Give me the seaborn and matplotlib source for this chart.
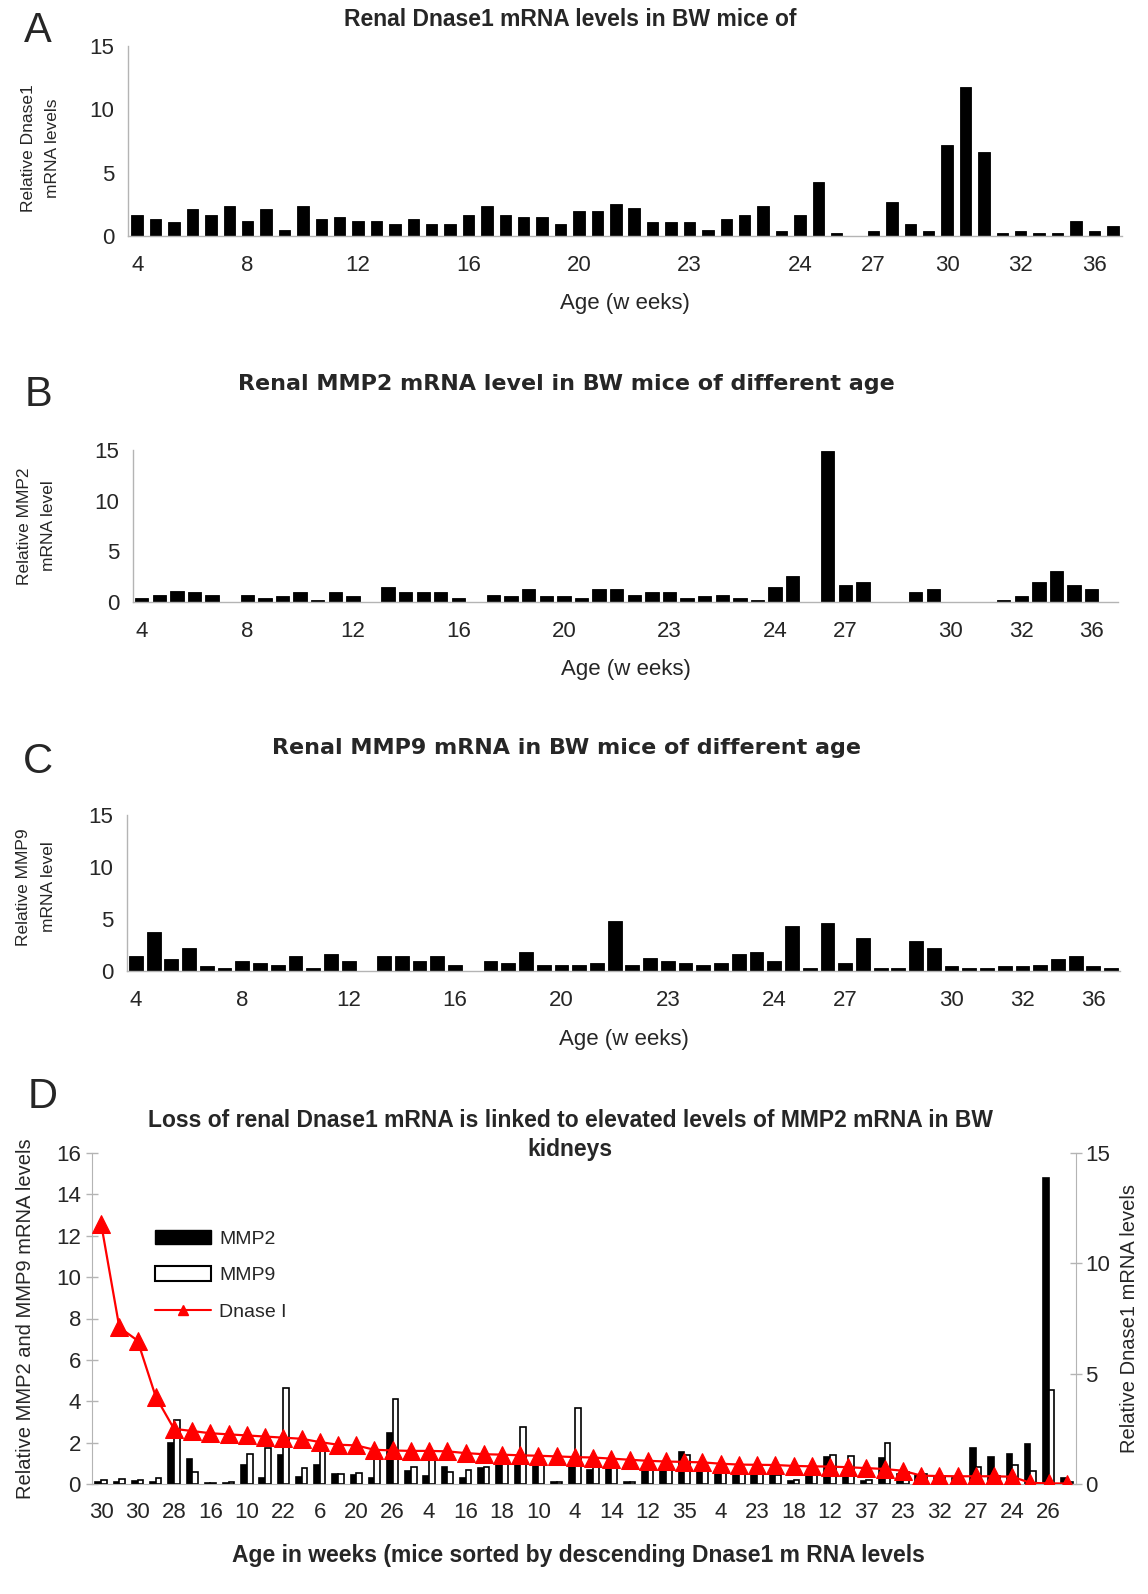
import numpy as np
import pandas as pd
import matplotlib
matplotlib.use("Agg")
import matplotlib.pyplot as plt
import seaborn as sns
from matplotlib.patches import Patch
from matplotlib.lines import Line2D

# A: renal Dnase1 mRNA per mouse, mice in age order
dnase_levels = [1.64, 1.38, 1.08, 2.1, 1.64, 2.33,
                1.2, 2.1, 0.51, 2.33, 1.38, 1.51,
                1.2, 1.2, 0.92, 1.38, 0.92, 0.92,
                1.64, 2.33, 1.64, 1.51, 1.51, 0.92,
                1.95, 1.95, 2.49, 2.2, 1.08, 1.08,
                1.08, 0.51, 1.38, 1.64, 2.33, 0.36,
                1.64, 4.23, 0.2, 0.0,
                0.36, 2.67, 0.92, 0.36,
                7.2, 11.8, 6.64, 0.2,
                0.36, 0.2, 0.2, 1.2,
                0.36, 0.77]
dnase_ages = (["4"] * 6 + ["8"] * 6 + ["12"] * 6 + ["16"] * 6 + ["20"] * 6 + ["23"] * 6
              + ["24"] * 4 + ["27"] * 4 + ["30"] * 4 + ["32"] * 4 + ["36"] * 2)

# B / C: MMP2 and MMP9 per mouse, age order
mmp_ages = (["4"] * 6 + ["8"] * 6 + ["12"] * 6 + ["16"] * 6 + ["20"] * 6 + ["23"] * 6
            + ["24"] * 4 + ["27"] * 6 + ["30"] * 4 + ["32"] * 4 + ["36"] * 2)
mmp2_levels = [0.42, 0.74, 1.1, 0.94, 0.74, 0.0, 0.74, 0.39, 0.55, 0.94, 0.23, 0.94, 0.55, 0.0,
               1.45, 0.94, 0.94, 0.94, 0.39, 0.0, 0.74, 0.55, 1.29, 0.55, 0.55, 0.39, 1.29, 1.29,
               0.74, 0.97, 0.97, 0.39, 0.55, 0.74, 0.39, 0.19, 1.48, 2.55, 0.0, 14.9, 1.68, 2.0,
               0.0, 0.0, 0.94, 1.29, 0.0, 0.0, 0.0, 0.23, 0.55, 2.0, 3.1, 1.68, 1.29, 0.0]
mmp9_levels = [1.47, 3.72, 1.13, 2.19, 0.44, 0.25, 0.94, 0.78, 0.59, 1.47, 0.25, 1.66, 0.94, 0.0,
               1.47, 1.47, 0.94, 1.47, 0.59, 0.0, 0.94, 0.78, 1.81, 0.59, 0.59, 0.59, 0.78, 4.78,
               0.59, 1.28, 0.94, 0.78, 0.59, 0.78, 1.66, 1.81, 0.94, 4.28, 0.25, 4.6, 0.78, 3.22,
               0.25, 0.25, 2.84, 2.19, 0.44, 0.25, 0.25, 0.44, 0.44, 0.59, 1.13, 1.47, 0.44, 0.25]

# D: mice sorted by descending Dnase1
sorted_mmp2 = [0.1, 0.1, 0.15, 0.1, 2.0, 1.2, 0.05, 0.05, 0.9, 0.3,
               1.4, 0.35, 0.9, 0.5, 0.45, 0.3, 2.45, 0.65, 0.4, 0.8,
               0.3, 0.75, 1.0, 1.0, 1.0, 0.1, 0.8, 0.7, 0.85, 0.1,
               0.75, 0.7, 1.55, 0.7, 0.6, 0.6, 0.5, 0.5, 0.15, 0.45,
               1.3, 0.5, 0.15, 1.25, 0.5, 0.45, 0.3, 0.3, 1.75, 1.3,
               1.45, 1.95, 14.8, 0.3]
sorted_mmp9 = [0.2, 0.25, 0.2, 0.3, 3.1, 0.6, 0.05, 0.1, 1.45, 1.75,
               4.65, 0.75, 1.65, 0.5, 0.55, 1.2, 4.1, 0.8, 1.15, 0.6,
               0.7, 0.8, 1.1, 2.75, 1.05, 0.1, 3.65, 0.8, 0.85, 0.1,
               0.75, 0.7, 1.4, 0.7, 0.6, 0.55, 0.5, 0.45, 0.2, 0.45,
               1.4, 1.35, 0.2, 2.0, 0.6, 0.5, 0.4, 0.35, 0.8, 0.4,
               0.9, 0.65, 4.55, 0.1]
sorted_dnase = [11.8, 7.1, 6.5, 3.95, 2.5, 2.4, 2.3, 2.25, 2.2, 2.15,
                2.1, 2.05, 1.9, 1.78, 1.75, 1.55, 1.52, 1.5, 1.5, 1.48,
                1.4, 1.35, 1.33, 1.3, 1.28, 1.25, 1.22, 1.2, 1.15, 1.1,
                1.05, 1.02, 1.0, 0.98, 0.92, 0.88, 0.87, 0.86, 0.82, 0.8,
                0.79, 0.76, 0.72, 0.68, 0.6, 0.38, 0.36, 0.35, 0.35, 0.35,
                0.33, 0.05, 0.03, 0.02]
# age shown under every second mouse
sorted_age_labels = ["30", "30", "28", "16", "10", "22", "6", "20", "26", "4", "16", "18", "10", "4",
                     "14", "12", "35", "4", "23", "18", "12", "37", "23", "32", "27", "24", "26"]

W, H = 1148, 1594
GREY = "#b4b4b4"

sns.set_style("white")
plt.rcParams["font.family"] = ["Liberation Sans", "DejaVu Sans"]

fig = plt.figure(figsize=(W / 100, H / 100), dpi=100)


def add_ax(left, top, right, bottom):
    return fig.add_axes([left / W, 1 - bottom / H, (right - left) / W, (bottom - top) / H])


def fig_text(x, y, s, **kw):
    fig.text(x / W, 1 - y / H, s, ha="center", va="center", **kw)


def age_panel(box, levels, ages, bar_width, ylabel, ylabel_pos, xlabel_y):
    ax = add_ax(*box)
    n = len(levels)
    df = pd.DataFrame({"mouse": np.arange(n), "level": levels})
    sns.barplot(data=df, x="mouse", y="level", color="black", saturation=1, width=bar_width,
                edgecolor="black", linewidth=0.6, errorbar=None, ax=ax)
    ax.set_xlim(-0.5, n - 0.5)
    ax.set_ylim(0, 15)
    ax.set_yticks([0, 5, 10, 15])
    starts = [i for i in range(n) if i == 0 or ages[i] != ages[i - 1]]
    ax.set_xticks(starts, labels=[ages[i] for i in starts])
    ax.set_xticks(np.arange(-0.5, n), minor=True)
    ax.tick_params(axis="x", which="major", length=0, pad=14, labelsize=16)
    ax.tick_params(axis="x", which="minor", length=6, color=GREY, width=1)
    ax.tick_params(axis="y", length=6, color=GREY, width=1, labelsize=16, pad=4)
    for side in ["top", "right"]:
        ax.spines[side].set_visible(False)
    for side in ["left", "bottom"]:
        ax.spines[side].set_color(GREY)
        ax.spines[side].set_linewidth(1)
    ax.set_xlabel("Age (w eeks)", fontsize=16)
    ax.xaxis.set_label_coords(0.5, xlabel_y)
    ax.set_ylabel(ylabel, fontsize=12.5, linespacing=1.8)
    ax.yaxis.set_label_coords(*ylabel_pos)
    return ax


# Panel A
age_panel((128, 46, 1122, 236), dnase_levels, dnase_ages, 0.62,
          "Relative Dnase1\nmRNA levels", (-0.068, 0.46), -0.30)
fig_text(570, 19, "Renal Dnase1 mRNA levels in BW mice of", fontsize=16.5, fontweight="bold")
fig_text(38, 31, "A", fontsize=30)

# Panel B
age_panel((133, 450, 1118, 602), mmp2_levels, mmp_ages, 0.76,
          "Relative MMP2\nmRNA level", (-0.078, 0.5), -0.375)
fig_text(566, 384, "Renal MMP2 mRNA level in BW mice of different age", fontsize=16,
         fontweight="bold", family="DejaVu Sans")
fig_text(38, 395, "B", fontsize=30)

# Panel C
age_panel((127, 815, 1120, 971), mmp9_levels, mmp_ages, 0.78,
          "Relative MMP9\nmRNA level", (-0.072, 0.54), -0.372)
fig_text(566, 748, "Renal MMP9 mRNA in BW mice of different age", fontsize=16,
         fontweight="bold", family="DejaVu Sans")
fig_text(38, 762, "C", fontsize=30)

# Panel D
ax = add_ax(92, 1153, 1076, 1484)
n = len(sorted_dnase)
dfd = pd.DataFrame({"mouse": np.tile(np.arange(n), 2),
                    "level": sorted_mmp2 + sorted_mmp9,
                    "gene": ["MMP2"] * n + ["MMP9"] * n})
sns.barplot(data=dfd, x="mouse", y="level", hue="gene",
            palette={"MMP2": "black", "MMP9": "white"}, saturation=1, width=0.62,
            edgecolor="black", linewidth=1.2, errorbar=None, legend=False, ax=ax)
ax2 = ax.twinx()
sns.lineplot(x=np.arange(n), y=sorted_dnase, color="red", lw=1.6, marker="^", markersize=13.5,
             markeredgecolor="red", ax=ax2)
ax.set_xlim(-0.5, n - 0.5)
ax.set_ylim(0, 16)
ax.set_yticks(range(0, 17, 2))
ax2.set_ylim(0, 15)
ax2.set_yticks([0, 5, 10, 15])
ax.set_xticks(np.arange(0, n, 2), labels=sorted_age_labels)
ax.tick_params(axis="x", length=0, pad=13, labelsize=16)
ax.tick_params(axis="y", length=9, direction="inout", color=GREY, width=1, labelsize=16)
ax2.tick_params(axis="y", length=9, direction="inout", color=GREY, width=1, labelsize=16, pad=2)
for a in (ax, ax2):
    a.spines["top"].set_visible(False)
ax.spines["right"].set_visible(False)
ax2.spines["left"].set_visible(False)
ax2.spines["bottom"].set_visible(False)
ax.spines["left"].set_color(GREY)
ax.spines["bottom"].set_color(GREY)
ax2.spines["right"].set_color(GREY)
ax.set_xlabel("Age in weeks (mice sorted by descending Dnase1 m RNA levels", fontsize=16.5,
              fontweight="bold")
ax.xaxis.set_label_coords(0.494, -0.18)
ax.set_ylabel("Relative MMP2 and MMP9 mRNA levels", fontsize=14.5)
ax.yaxis.set_label_coords(-0.058, 0.5)
ax2.set_ylabel("Relative Dnase1 mRNA levels", fontsize=14.5)
ax2.yaxis.set_label_coords(1.045, 0.5)

handles = [Patch(facecolor="black", edgecolor="black"),
           Patch(facecolor="white", edgecolor="black", linewidth=1.5),
           Line2D([], [], color="red", lw=1.5, marker="^", markersize=7)]
ax2.legend(handles, ["MMP2", "MMP9", "Dnase I"], loc="upper left", bbox_to_anchor=(0.064, 0.767),
           frameon=False, fontsize=14, handlelength=2.9, handleheight=0.75, labelspacing=0.95,
           handletextpad=0.4, borderaxespad=0, borderpad=0)

fig_text(570, 1135, "Loss of renal Dnase1 mRNA is linked to elevated levels of MMP2 mRNA in BW\nkidneys",
         fontsize=16.5, fontweight="bold", linespacing=1.32)
fig_text(43, 1097, "D", fontsize=30)

fig.savefig("out.png", dpi=100)
